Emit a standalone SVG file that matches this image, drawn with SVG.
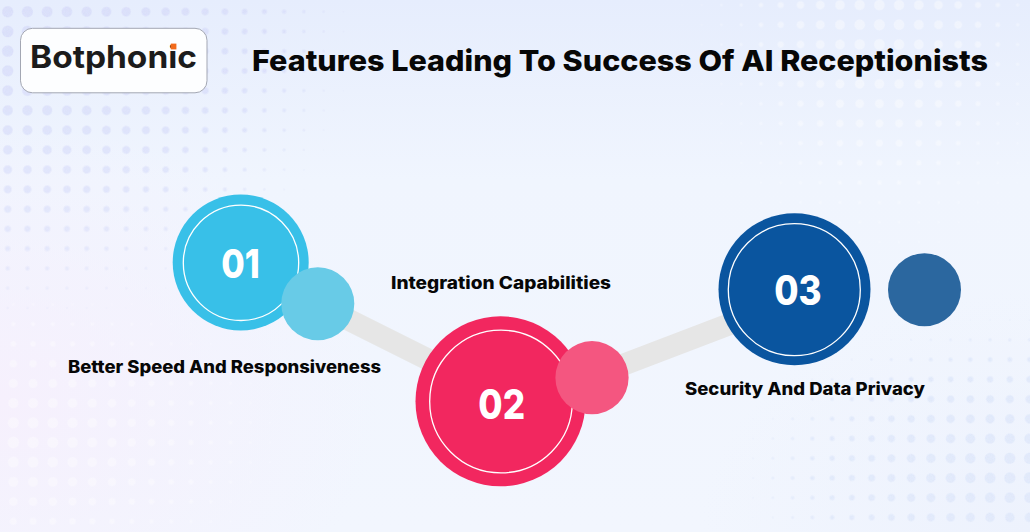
<svg xmlns="http://www.w3.org/2000/svg" width="1030" height="532" viewBox="0 0 1030 532">
<style>
text{font-family:"Inter","Liberation Sans",sans-serif;font-weight:800}
.label{font-size:17px;fill:#070707}
.num{font-size:40px;fill:#fff;text-anchor:middle}
.ring{fill:none;stroke:#fff;stroke-width:1.3}
.link{stroke:#e6e6e6;stroke-width:22;fill:none}
</style>
<defs>
<linearGradient id="bgTop" x1="0" y1="0" x2="0" y2="1"><stop offset="0" stop-color="#e6edfd"/><stop offset=".34" stop-color="#f0f5fe"/><stop offset="1" stop-color="#f2f6fe"/></linearGradient>
<radialGradient id="bgPink" gradientUnits="userSpaceOnUse" cx="0" cy="0" r="1" gradientTransform="translate(0 400) scale(380 280)"><stop offset="0" stop-color="#f6f0fd"/><stop offset="1" stop-color="#f6f0fd" stop-opacity="0"/></radialGradient>
<radialGradient id="bgBlue" gradientUnits="userSpaceOnUse" cx="0" cy="0" r="1" gradientTransform="translate(1030 532) scale(330 240)"><stop offset="0" stop-color="#edf2fd"/><stop offset="1" stop-color="#edf2fd" stop-opacity="0"/></radialGradient>
<radialGradient id="gLav"><stop offset="0" stop-color="#dadffa"/><stop offset="1" stop-color="#dadffa" stop-opacity="0"/></radialGradient>
<radialGradient id="gBlue"><stop offset="0" stop-color="#e2eafb"/><stop offset="1" stop-color="#e2eafb" stop-opacity="0"/></radialGradient>
<radialGradient id="gWhite"><stop offset="0" stop-color="#fff"/><stop offset="1" stop-color="#fff" stop-opacity="0"/></radialGradient>
<pattern id="pTL" patternUnits="userSpaceOnUse" x="-2.175" y="1.825" width="19.75" height="19.75"><circle cx="9.875" cy="9.875" r="9.875" fill="url(#gLav)"/></pattern>
<pattern id="pBL" patternUnits="userSpaceOnUse" x="3.425" y="-1.875" width="19.75" height="19.75"><circle cx="9.875" cy="9.875" r="9.875" fill="url(#gWhite)"/></pattern>
<pattern id="pTR" patternUnits="userSpaceOnUse" x="0.5" y="-4.875" width="19.75" height="19.75"><circle cx="9.875" cy="9.875" r="9.875" fill="url(#gWhite)"/></pattern>
<pattern id="pBR" patternUnits="userSpaceOnUse" x="-7.325" y="-5.875" width="19.75" height="19.75"><circle cx="9.875" cy="9.875" r="9.875" fill="url(#gBlue)"/></pattern>
<radialGradient id="sTL" gradientUnits="userSpaceOnUse" cx="0" cy="0" r="1" gradientTransform="translate(0 40) scale(370 300)"><stop offset="0" stop-color="#fff"/><stop offset=".6" stop-color="#fff" stop-opacity=".62"/><stop offset="1" stop-color="#fff" stop-opacity=".36"/></radialGradient>
<radialGradient id="sBL" gradientUnits="userSpaceOnUse" cx="0" cy="0" r="1" gradientTransform="translate(20 440) scale(290 170)"><stop offset="0" stop-color="#fff"/><stop offset=".6" stop-color="#fff" stop-opacity=".54"/><stop offset="1" stop-color="#fff" stop-opacity=".36"/></radialGradient>
<radialGradient id="sTR" gradientUnits="userSpaceOnUse" cx="0" cy="0" r="1" gradientTransform="translate(880 30) scale(220 280)"><stop offset="0" stop-color="#fff" stop-opacity=".95"/><stop offset=".6" stop-color="#fff" stop-opacity=".48"/><stop offset="1" stop-color="#fff" stop-opacity=".36"/></radialGradient>
<radialGradient id="sBR" gradientUnits="userSpaceOnUse" cx="0" cy="0" r="1" gradientTransform="translate(1030 470) scale(310 165)"><stop offset="0" stop-color="#fff"/><stop offset=".6" stop-color="#fff" stop-opacity=".58"/><stop offset="1" stop-color="#fff" stop-opacity=".36"/></radialGradient>
<linearGradient id="fadeG" x1="0" y1="0" x2="0" y2="1"><stop offset="0" stop-color="#fff"/><stop offset="1" stop-color="#fff" stop-opacity=".4"/></linearGradient>
<mask id="mTL" maskUnits="userSpaceOnUse" x="0" y="0" width="1030" height="532"><rect width="1030" height="532" fill="url(#sTL)"/></mask>
<mask id="mBL" maskUnits="userSpaceOnUse" x="0" y="0" width="1030" height="532"><rect width="1030" height="532" fill="url(#sBL)"/></mask>
<mask id="mTR" maskUnits="userSpaceOnUse" x="0" y="0" width="1030" height="532"><rect width="1030" height="532" fill="url(#sTR)"/></mask>
<mask id="mBR" maskUnits="userSpaceOnUse" x="0" y="0" width="1030" height="532"><rect width="1030" height="532" fill="url(#sBR)"/></mask>
<mask id="mFade" maskUnits="userSpaceOnUse" x="0" y="0" width="1030" height="532"><rect width="1030" height="340" fill="url(#fadeG)"/></mask>
<filter id="ht" filterUnits="userSpaceOnUse" x="0" y="0" width="1030" height="532" color-interpolation-filters="sRGB"><feComponentTransfer><feFuncA type="linear" slope="8" intercept="-2.8"/></feComponentTransfer></filter>
</defs>

<g id="background">
<rect width="1030" height="532" fill="url(#bgTop)"/>
<rect width="1030" height="532" fill="url(#bgPink)"/>
<rect width="1030" height="532" fill="url(#bgBlue)"/>
<g mask="url(#mFade)"><g filter="url(#ht)"><rect width="1030" height="532" fill="url(#pTL)" mask="url(#mTL)"/></g></g>
<g opacity=".38" filter="url(#ht)"><rect width="1030" height="532" fill="url(#pBL)" mask="url(#mBL)"/></g>
<g opacity=".4" filter="url(#ht)"><rect width="1030" height="532" fill="url(#pTR)" mask="url(#mTR)"/></g>
<g filter="url(#ht)"><rect width="1030" height="532" fill="url(#pBR)" mask="url(#mBR)"/></g>
</g>

<g id="logo">
<rect x="20.5" y="28.3" width="186.5" height="64.5" rx="12" fill="#fdfeff" stroke="#a3a7b3" stroke-width="1"/>
<text x="30" y="68" font-size="31.5" fill="#1c1c1c" textLength="167" lengthAdjust="spacingAndGlyphs" style="font-weight:700">Botphonic</text>
<rect x="170.8" y="43.6" width="5.6" height="5.8" fill="#f26a1b"/>
</g>

<g id="title"><text x="252" y="71" font-size="29" fill="#070707" textLength="736" lengthAdjust="spacingAndGlyphs">Features Leading To Success Of AI Receptionists</text></g>

<g id="connectors">
<line class="link" x1="345" y1="318" x2="435" y2="363"/>
<line class="link" x1="620" y1="366" x2="730" y2="324"/>
</g>

<g id="node-01">
<circle cx="240.7" cy="262.5" r="68" fill="#38c0e8"/>
<circle class="ring" cx="241" cy="262.8" r="57.7"/>
<circle cx="317.8" cy="303.8" r="36.5" fill="#68cbe7"/>
<text class="num" x="240.5" y="277.5" textLength="38.5" lengthAdjust="spacingAndGlyphs">01</text>
<text class="label" x="68" y="373" textLength="313" lengthAdjust="spacingAndGlyphs">Better Speed And Responsiveness</text>
</g>

<g id="node-02">
<circle cx="500.5" cy="401.3" r="85" fill="#f2275f"/>
<circle class="ring" cx="501" cy="401.5" r="71.3"/>
<circle cx="592" cy="377.7" r="36.6" fill="#f45680"/>
<text class="num" x="501.7" y="418.7" textLength="46.7" lengthAdjust="spacingAndGlyphs" style="font-size:41px">02</text>
<text class="label" x="391" y="289" textLength="220" lengthAdjust="spacingAndGlyphs">Integration Capabilities</text>
</g>

<g id="node-03">
<circle cx="794.5" cy="289.3" r="76" fill="#0a559f"/>
<circle class="ring" cx="794.3" cy="289.7" r="66"/>
<circle cx="924.5" cy="289.8" r="36.5" fill="#2b679f"/>
<text class="num" x="798" y="304.7" textLength="47.4" lengthAdjust="spacingAndGlyphs" style="font-size:41px">03</text>
<text class="label" x="685" y="395" textLength="240" lengthAdjust="spacingAndGlyphs">Security And Data Privacy</text>
</g>
</svg>
